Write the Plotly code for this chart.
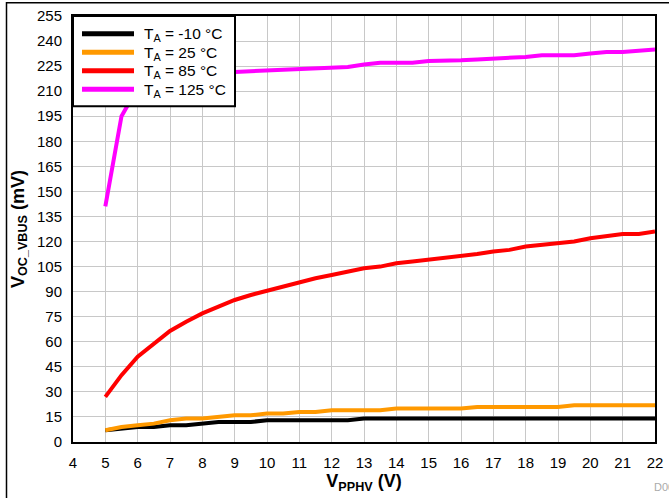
import plotly.graph_objects as go

vpphv = [5, 5.5, 6, 6.5, 7, 7.5, 8, 8.5, 9, 9.5, 10, 10.5, 11, 11.5, 12, 12.5, 13, 13.5,
         14, 14.5, 15, 15.5, 16, 16.5, 17, 17.5, 18, 18.5, 19, 19.5, 20, 20.5, 21, 21.5, 22]

voc_m10 = [7, 8, 9, 9, 10, 10, 11, 12, 12, 12, 13, 13, 13, 13, 13, 13, 14, 14,
           14, 14, 14, 14, 14, 14, 14, 14, 14, 14, 14, 14, 14, 14, 14, 14, 14]
voc_25 = [7, 9, 10, 11, 13, 14, 14, 15, 16, 16, 17, 17, 18, 18, 19, 19, 19, 19,
          20, 20, 20, 20, 20, 21, 21, 21, 21, 21, 21, 22, 22, 22, 22, 22, 22]
voc_85 = [27, 40, 51, 59, 66.5, 72, 77, 81, 85, 88, 90.5, 93, 96, 98, 100, 102, 104, 105,
          107, 108, 109, 110, 111, 112.5, 114, 115, 117, 118, 119, 120, 122, 123, 124.5, 124.5, 126]
voc_125 = [141, 195, 212, 216, 218.5, 219.5, 220.5, 221, 221.5, 222, 222.5, 223, 223, 223.5, 224.5, 224.5, 226, 227,
           227, 227, 228, 228, 228.5, 229, 229.5, 229.8, 230.5, 231.5, 231.5, 231.5, 232.5, 233.5, 233.5, 234.5, 235]

series_names = ["T<sub>A</sub> = -10 °C", "T<sub>A</sub> = 25 °C", "T<sub>A</sub> = 85 °C", "T<sub>A</sub> = 125 °C"]
series_colors = ["#000000", "#FF9900", "#FF0000", "#FF00FF"]
series_values = [voc_m10, voc_25, voc_85, voc_125]

x_ticks = list(range(4, 23))
y_ticks = list(range(0, 256, 15))

FONT = "Liberation Sans, Arial, sans-serif"

L, R, T, B = 73, 14, 15.7, 55.7
W, H = 669, 498
pw, ph = W - L - R, H - T - B


def px_x(p):
    return (p - L) / pw


def px_y(p):
    return (H - B - p) / ph


fig = go.Figure()
for name, color, vals in zip(series_names, series_colors, series_values):
    fig.add_trace(go.Scatter(x=vpphv, y=vals, mode="lines", name=name,
                             line=dict(color=color, width=4), showlegend=False))

fig.update_layout(
    width=W, height=H,
    margin=dict(l=L, r=R, t=T, b=B, pad=0, autoexpand=False),
    paper_bgcolor="white", plot_bgcolor="white",
    font=dict(family=FONT, size=15, color="black"),
    showlegend=False,
    xaxis=dict(range=[4, 22], tickvals=x_ticks, ticktext=[str(v) for v in x_ticks],
               showgrid=True, gridcolor="#c8c8c8", gridwidth=1,
               showline=True, linecolor="black", linewidth=2, mirror=True,
               ticks="outside", ticklen=6, tickcolor="rgba(0,0,0,0)",
               zeroline=False, automargin=False,
               title=dict(text="<b>V<sub>PPHV</sub> (V)</b>", font=dict(size=18), standoff=4)),
    yaxis=dict(range=[0, 255], tickvals=y_ticks, ticktext=[str(v) for v in y_ticks],
               showgrid=True, gridcolor="#c8c8c8", gridwidth=1,
               showline=True, linecolor="black", linewidth=2, mirror=True,
               ticks="outside", ticklen=6, tickcolor="rgba(0,0,0,0)",
               zeroline=False, automargin=False,
               title=dict(text="<b>V<sub>OC_VBUS</sub> (mV)</b>", font=dict(size=18), standoff=8)),
)

# outer frame
fig.add_shape(type="rect", xref="paper", yref="paper",
              x0=px_x(6.5), x1=px_x(W + 30), y0=px_y(H + 30), y1=px_y(2.5),
              line=dict(color="black", width=1.5), fillcolor="rgba(0,0,0,0)", layer="below")

# legend box
fig.add_shape(type="rect", xref="paper", yref="paper",
              x0=0, x1=px_x(235), y0=px_y(106), y1=1,
              line=dict(color="black", width=2), fillcolor="white", layer="above")
legend_rows = [33.5, 52, 70.5, 89]
for name, color, yr in zip(series_names, series_colors, legend_rows):
    fig.add_shape(type="line", xref="paper", yref="paper",
                  x0=px_x(82), x1=px_x(134), y0=px_y(yr), y1=px_y(yr),
                  line=dict(color=color, width=5), layer="above")
    fig.add_annotation(text=name, xref="paper", yref="paper",
                       x=px_x(142), y=px_y(yr + 1), xanchor="left", yanchor="middle",
                       showarrow=False, font=dict(size=15.5, color="black"))

fig.add_annotation(text="D001", xref="paper", yref="paper",
                   x=px_x(652), y=px_y(487), xanchor="left", yanchor="middle",
                   showarrow=False, font=dict(size=11, color="#aaaaaa"))

fig.write_html("out.html", config={"displayModeBar": False},
               post_script="document.body.style.margin='0';document.body.style.overflow='hidden';")
